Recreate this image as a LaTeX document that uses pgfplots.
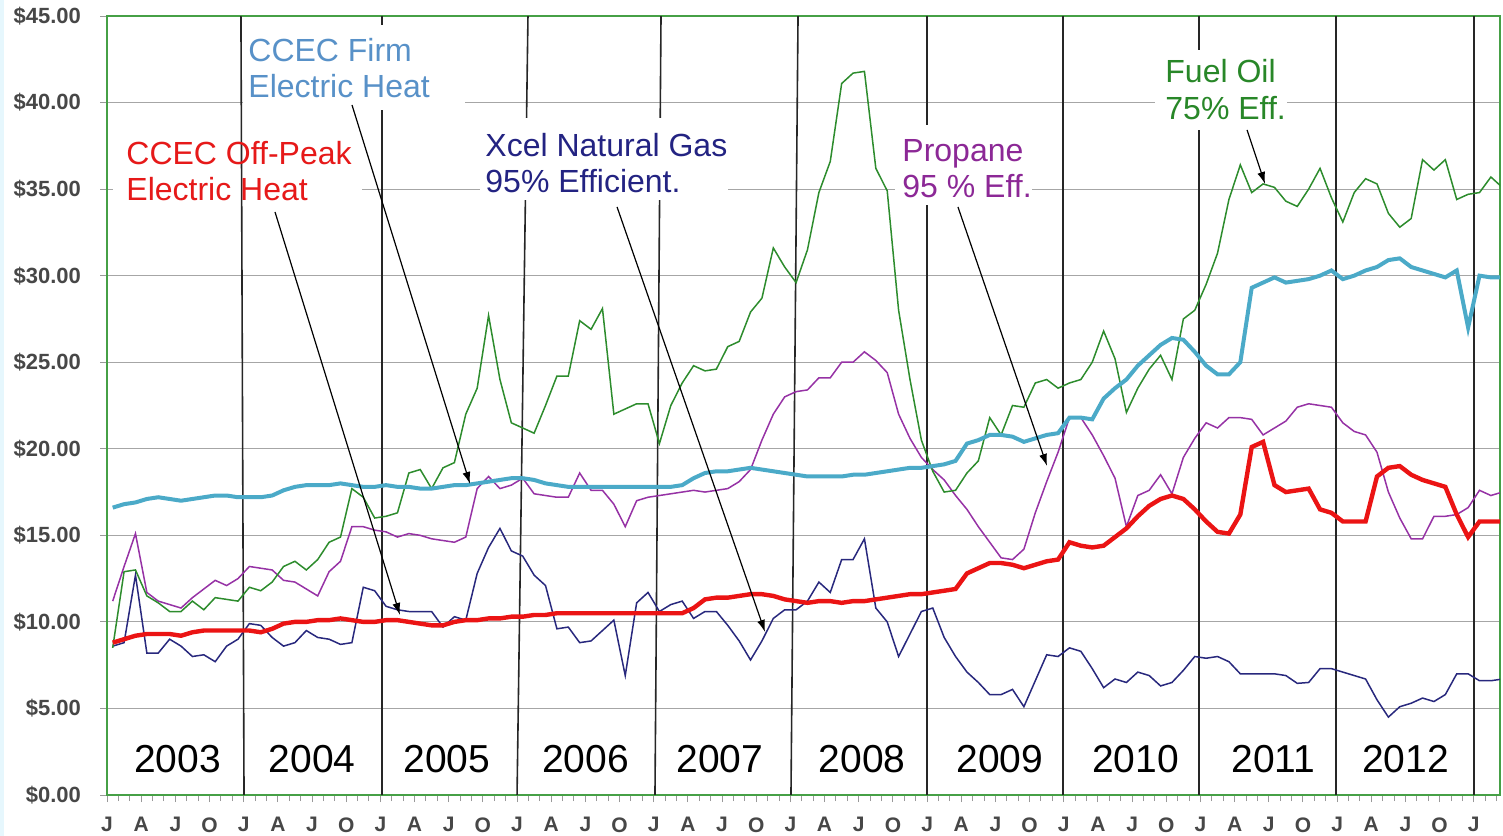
\documentclass[border=0pt]{standalone}
\usepackage{fontspec}
\setmainfont{Liberation Sans}
\usepackage{pgfplots}
\pgfplotsset{compat=1.18}
\usepackage{pgfplotstable}
\usetikzlibrary{arrows.meta}

\definecolor{firmc}{RGB}{75,170,200}
\definecolor{offc}{RGB}{235,20,20}
\definecolor{gasc}{RGB}{40,40,125}
\definecolor{propc}{RGB}{150,50,165}
\definecolor{oilc}{RGB}{45,140,45}
\definecolor{firmt}{RGB}{88,145,200}
\definecolor{offt}{RGB}{230,25,25}
\definecolor{gast}{RGB}{35,35,130}
\definecolor{propt}{RGB}{140,40,150}
\definecolor{oilt}{RGB}{40,135,40}
\definecolor{framec}{RGB}{70,160,70}

\pgfplotstableread{
x firm off gas prop oil
0.5 16.6 8.8 8.6 11.2 8.5
1.5 16.8 9.0 8.8 13.2 12.9
2.5 16.9 9.2 12.7 15.1 13.0
3.5 17.1 9.3 8.2 11.7 11.5
4.5 17.2 9.3 8.2 11.2 11.1
5.5 17.1 9.3 9.0 11.0 10.6
6.5 17.0 9.2 8.6 10.8 10.6
7.5 17.1 9.4 8.0 11.4 11.2
8.5 17.2 9.5 8.1 11.9 10.7
9.5 17.3 9.5 7.7 12.4 11.4
10.5 17.3 9.5 8.6 12.1 11.3
11.5 17.2 9.5 9.0 12.5 11.2
12.5 17.2 9.5 9.9 13.2 12.0
13.5 17.2 9.4 9.8 13.1 11.8
14.5 17.3 9.6 9.1 13.0 12.3
15.5 17.6 9.9 8.6 12.4 13.2
16.5 17.8 10.0 8.8 12.3 13.5
17.5 17.9 10.0 9.5 11.9 13.0
18.5 17.9 10.1 9.1 11.5 13.6
19.5 17.9 10.1 9.0 12.9 14.6
20.5 18.0 10.2 8.7 13.5 14.9
21.5 17.9 10.1 8.8 15.5 17.7
22.5 17.8 10.0 12.0 15.5 17.2
23.5 17.8 10.0 11.8 15.3 16.0
24.5 17.9 10.1 10.9 15.2 16.1
25.5 17.8 10.1 10.7 14.9 16.3
26.5 17.8 10.0 10.6 15.1 18.6
27.5 17.7 9.9 10.6 15.0 18.8
28.5 17.7 9.8 10.6 14.8 17.7
29.5 17.8 9.8 9.7 14.7 18.9
30.5 17.9 10.0 10.3 14.6 19.2
31.5 17.9 10.1 10.1 14.9 22.0
32.5 18.0 10.1 12.8 17.7 23.5
33.5 18.1 10.2 14.3 18.4 27.7
34.5 18.2 10.2 15.4 17.7 24.0
35.5 18.3 10.3 14.1 17.9 21.5
36.5 18.3 10.3 13.8 18.3 21.2
37.5 18.2 10.4 12.7 17.4 20.9
38.5 18.0 10.4 12.1 17.3 22.5
39.5 17.9 10.5 9.6 17.2 24.2
40.5 17.8 10.5 9.7 17.2 24.2
41.5 17.8 10.5 8.8 18.6 27.4
42.5 17.8 10.5 8.9 17.6 26.9
43.5 17.8 10.5 9.5 17.6 28.1
44.5 17.8 10.5 10.1 16.8 22.0
45.5 17.8 10.5 6.9 15.5 22.3
46.5 17.8 10.5 11.1 17.0 22.6
47.5 17.8 10.5 11.7 17.2 22.6
48.5 17.8 10.5 10.6 17.3 20.3
49.5 17.8 10.5 11.0 17.4 22.5
50.5 17.9 10.5 11.2 17.5 23.8
51.5 18.3 10.8 10.2 17.6 24.8
52.5 18.6 11.3 10.6 17.5 24.5
53.5 18.7 11.4 10.6 17.6 24.6
54.5 18.7 11.4 9.8 17.7 25.9
55.5 18.8 11.5 8.9 18.1 26.2
56.5 18.9 11.6 7.8 18.8 27.9
57.5 18.8 11.6 8.9 20.5 28.7
58.5 18.7 11.5 10.2 22.0 31.6
59.5 18.6 11.3 10.7 23.0 30.5
60.5 18.5 11.2 10.7 23.3 29.6
61.5 18.4 11.1 11.2 23.4 31.5
62.5 18.4 11.2 12.3 24.1 34.8
63.5 18.4 11.2 11.7 24.1 36.6
64.5 18.4 11.1 13.6 25.0 41.1
65.5 18.5 11.2 13.6 25.0 41.7
66.5 18.5 11.2 14.8 25.6 41.8
67.5 18.6 11.3 10.8 25.1 36.2
68.5 18.7 11.4 10.0 24.4 34.9
69.5 18.8 11.5 8.0 22.0 28.0
70.5 18.9 11.6 9.3 20.6 24.0
71.5 18.9 11.6 10.6 19.5 20.5
72.5 19.0 11.7 10.8 18.8 18.7
73.5 19.1 11.8 9.1 18.2 17.5
74.5 19.3 11.9 8.0 17.3 17.6
75.5 20.3 12.8 7.1 16.5 18.6
76.5 20.5 13.1 6.5 15.5 19.3
77.5 20.8 13.4 5.8 14.6 21.8
78.5 20.8 13.4 5.8 13.7 20.8
79.5 20.7 13.3 6.1 13.6 22.5
80.5 20.4 13.1 5.1 14.2 22.4
81.5 20.6 13.3 6.6 16.3 23.8
82.5 20.8 13.5 8.1 18.1 24.0
83.5 20.9 13.6 8.0 19.8 23.5
84.5 21.8 14.6 8.5 21.8 23.8
85.5 21.8 14.4 8.3 21.8 24.0
86.5 21.7 14.3 7.3 20.8 25.0
87.5 22.9 14.4 6.2 19.6 26.8
88.5 23.5 14.9 6.7 18.3 25.2
89.5 24.0 15.4 6.5 15.5 22.1
90.5 24.8 16.1 7.1 17.3 23.5
91.5 25.4 16.7 6.9 17.6 24.6
92.5 26.0 17.1 6.3 18.5 25.4
93.5 26.4 17.3 6.5 17.4 24.0
94.5 26.3 17.1 7.2 19.5 27.5
95.5 25.6 16.5 8.0 20.6 28.0
96.5 24.8 15.8 7.9 21.5 29.5
97.5 24.3 15.2 8.0 21.2 31.3
98.5 24.3 15.1 7.7 21.8 34.4
99.5 25.0 16.2 7.0 21.8 36.4
100.5 29.3 20.1 7.0 21.7 34.8
101.5 29.6 20.4 7.0 20.8 35.3
102.5 29.9 17.9 7.0 21.2 35.1
103.5 29.6 17.5 6.9 21.6 34.3
104.5 29.7 17.6 6.45 22.4 34.0
105.5 29.8 17.7 6.5 22.6 35.0
106.5 30.0 16.5 7.3 22.5 36.2
107.5 30.3 16.3 7.3 22.4 34.5
108.5 29.8 15.8 7.1 21.5 33.1
109.5 30.0 15.8 6.9 21.0 34.8
110.5 30.3 15.8 6.7 20.8 35.6
111.5 30.5 18.4 5.5 19.8 35.3
112.5 30.9 18.9 4.5 17.5 33.6
113.5 31.0 19.0 5.1 16.0 32.8
114.5 30.5 18.5 5.3 14.8 33.3
115.5 30.3 18.2 5.6 14.8 36.7
116.5 30.1 18.0 5.4 16.1 36.1
117.5 29.9 17.8 5.8 16.1 36.7
118.5 30.3 16.2 7.0 16.2 34.4
119.5 27.0 14.9 7.0 16.6 34.7
120.5 30.0 15.8 6.6 17.6 34.8
121.5 29.9 15.8 6.6 17.3 35.7
122.5 29.9 15.8 6.7 17.5 35.1
}\datatable

\begin{document}
\begin{tikzpicture}
\useasboundingbox (0,0) rectangle (751.5bp,418bp);
\fill[cyan!10] (0,0) rectangle (2bp,418bp);
\begin{axis}[
  at={(53.5bp,20.5bp)}, anchor=south west,
  scale only axis, width=696.5bp, height=389.5bp,
  xmin=0, xmax=122.3, ymin=0, ymax=45,
  axis line style={draw=framec, line width=0.8bp},
  xtick={0,3,...,120},
  xticklabels={J,A,J,O,J,A,J,O,J,A,J,O,J,A,J,O,J,A,J,O,J,A,J,O,J,A,J,O,J,A,J,O,J,A,J,O,J,A,J,O,J},
  minor xtick={0,1,...,122},
  ytick={0,5,...,45},
  yticklabel={\$\pgfmathprintnumber[fixed,fixed zerofill,precision=2]{\tick}},
  /pgf/number format/assume math mode=true,
  ymajorgrids, grid style={draw=gray!70, line width=0.5bp},
  tick align=outside, xtick pos=bottom, ytick pos=left,
  major tick length=3.5bp, minor tick length=3bp,
  tick style={draw=gray!80, line width=0.5bp},
  yticklabel style={font=\fontsize{11bp}{13bp}\selectfont\bfseries, text=black!72, xshift=-6bp},
  xticklabel style={font=\fontsize{10.5bp}{12bp}\selectfont\bfseries, text=black!72, inner ysep=1bp, yshift=-6.5bp},
]
% year divider lines
\draw[black!85, line width=0.8bp] (24.14,45) -- (24.14,0);
\draw[black!85, line width=0.8bp] (36.96,45) -- (36.0,0);
\draw[black!85, line width=0.8bp] (48.64,45) -- (48.11,0);
\draw[black!85, line width=0.8bp] (60.67,45) -- (60.05,0);
\draw[black!85, line width=0.8bp] (71.99,45) -- (71.99,0);
\draw[black!85, line width=0.8bp] (83.93,45) -- (83.93,0);
\draw[black!85, line width=0.8bp] (95.87,45) -- (95.87,0);
\draw[black!85, line width=0.8bp] (107.9,45) -- (107.9,0);
\draw[black!85, line width=0.8bp] (120.0,45) -- (120.0,0);
% white label boxes
\fill[white] (11.94,39.57) rectangle (31.43,44.48);
\fill[white] (0.53,33.68) rectangle (22.39,38.71);
\fill[white] (32.75,34.37) rectangle (54.52,39.11);
\fill[white] (69.18,34.08) rectangle (81.21,38.71);
\fill[white] (92.01,38.42) rectangle (103.6,43.04);
\draw[black!85, line width=0.8bp] (11.76,45) -- (12.03,0);
% data
\addplot[gasc, line width=0.75bp] table[x=x,y=gas] {\datatable};
\addplot[propc, line width=0.75bp] table[x=x,y=prop] {\datatable};
\addplot[oilc, line width=0.75bp] table[x=x,y=oil] {\datatable};
\addplot[firmc, line width=2bp] table[x=x,y=firm] {\datatable};
\addplot[offc, line width=2.2bp] table[x=x,y=off] {\datatable};
% year labels
\tikzset{yr/.style={font=\fontsize{19.5bp}{22bp}\selectfont, black}}
\node[yr] at (6.2,2.08) {2003};
\node[yr] at (18.0,2.08) {2004};
\node[yr] at (29.85,2.08) {2005};
\node[yr] at (42.0,2.08) {2006};
\node[yr] at (53.8,2.08) {2007};
\node[yr] at (66.3,2.08) {2008};
\node[yr] at (78.4,2.08) {2009};
\node[yr] at (90.3,2.08) {2010};
\node[yr] at (102.4,2.08) {2011};
\node[yr] at (114.0,2.08) {2012};
% annotation texts
\tikzset{lab/.style={anchor=base west, inner sep=0pt, font=\fontsize{16bp}{18bp}\selectfont}}
\node[lab, text=firmt] at (12.38,42.35) {CCEC Firm};
\node[lab, text=firmt] at (12.38,40.27) {Electric Heat};
\node[lab, text=offt] at (1.67,36.40) {CCEC Off-Peak};
\node[lab, text=offt] at (1.67,34.37) {Electric Heat};
\node[lab, text=gast] at (33.19,36.86) {Xcel Natural Gas};
\node[lab, text=gast] at (33.19,34.78) {95\% Efficient.};
\node[lab, text=propt] at (69.80,36.57) {Propane};
\node[lab, text=propt] at (69.80,34.49) {95 \% Eff.};
\node[lab, text=oilt] at (92.89,41.13) {Fuel Oil};
\node[lab, text=oilt] at (92.89,39.0) {75\% Eff.};
% arrows
\tikzset{arr/.style={black, line width=0.6bp, -{Latex[length=6bp,width=4bp]}}}
\draw[arr] (21.51,39.86) -- (31.87,17.97);
\draw[arr] (14.75,33.68) -- (25.72,10.40);
\draw[arr] (44.78,33.97) -- (57.77,9.42);
\draw[arr] (74.71,33.97) -- (82.53,19.01);
\draw[arr] (100.09,38.42) -- (101.67,35.30);
\end{axis}
\end{tikzpicture}
\end{document}
